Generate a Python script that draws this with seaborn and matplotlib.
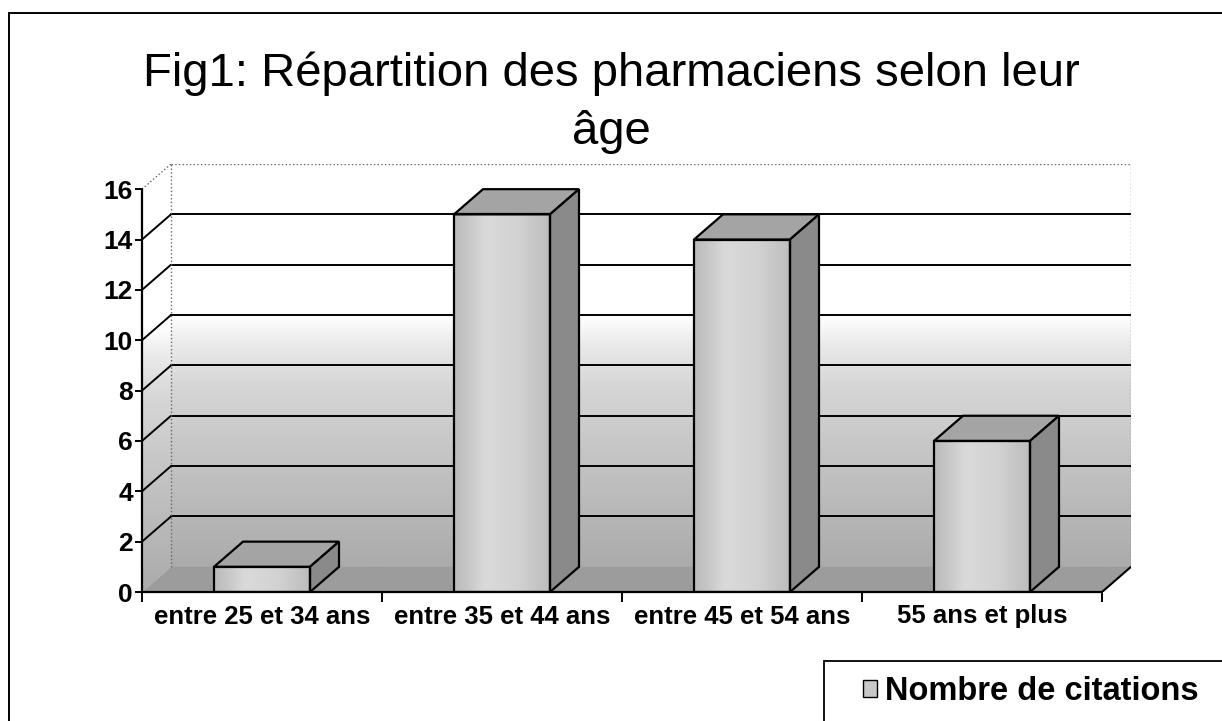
import matplotlib
matplotlib.use("Agg")
import matplotlib.pyplot as plt
import numpy as np
import pandas as pd
import seaborn as sns
from matplotlib.colors import LinearSegmentedColormap
from matplotlib.patches import Patch, Polygon, Rectangle

# data
categories = ["entre 25 et 34 ans", "entre 35 et 44 ans", "entre 45 et 54 ans", "55 ans et plus"]
citations = [1, 15, 14, 6]
y_ticks = [0, 2, 4, 6, 8, 10, 12, 14, 16]
title = "Fig1: Répartition des pharmaciens selon leur\nâge"
series_name = "Nombre de citations"

df = pd.DataFrame({"age": categories, "citations": citations})

sns.set_theme(style="white")
plt.rcParams["font.family"] = ["Liberation Sans", "DejaVu Sans"]
plt.rcParams["text.color"] = "black"
plt.rcParams["xtick.color"] = "black"
plt.rcParams["ytick.color"] = "black"

W, H = 1222, 721
fig = plt.figure(figsize=(W / 100, H / 100), dpi=100)
# front axis runs 142..1102 px, back wall ends at 1131 px; value 0 at y=592, wall top at y=164
ax = fig.add_axes([142 / W, (H - 592) / H, (1131 - 142) / W, (592 - 164) / H])

DX = 29 / 240   # depth offset, category units
DY = 1.0        # depth offset, value units
YMAX = y_ticks[-1]
x0, x1 = -0.5, len(categories) - 0.5

wall_cmap = LinearSegmentedColormap.from_list(
    "wall", [(0.0, "#ababab"), (0.25, "#c2c2c2"), (0.45, "#d6d6d6"),
             (0.56, "#ececec"), (0.62, "#ffffff"), (1.0, "#ffffff")])
grad = np.linspace(0, 1, 256).reshape(-1, 1)

# back wall
back = Polygon([(x0 + DX, DY), (x1 + DX, DY), (x1 + DX, YMAX + DY), (x0 + DX, YMAX + DY)],
               closed=True, facecolor="none", edgecolor="none")
ax.add_patch(back)
im = ax.imshow(grad, cmap=wall_cmap, origin="lower", aspect="auto",
               extent=(x0 + DX, x1 + DX, DY, YMAX + DY), zorder=1)
im.set_clip_path(back)

# left side wall
side = Polygon([(x0, 0), (x0 + DX, DY), (x0 + DX, YMAX + DY), (x0, YMAX)],
               closed=True, facecolor="none", edgecolor="none")
ax.add_patch(side)
im2 = ax.imshow(grad, cmap=wall_cmap, origin="lower", aspect="auto",
                extent=(x0, x0 + DX, 0, YMAX + DY), zorder=1)
im2.set_clip_path(side)

# floor
ax.add_patch(Polygon([(x0, 0), (x1, 0), (x1 + DX, DY), (x0 + DX, DY)], closed=True,
                     facecolor="#9c9c9c", edgecolor="none", zorder=2))
ax.plot([x1, x1 + DX], [0, DY], color="black", lw=1.5, zorder=3)

# gridlines on back and side walls
for t in y_ticks[1:-1]:
    ax.plot([x0 + DX, x1 + DX], [t + DY, t + DY], color="black", lw=1.4, zorder=3)
    ax.plot([x0, x0 + DX], [t, t + DY], color="black", lw=1.4, zorder=3)
ax.plot([x0 + DX, x1 + DX], [YMAX + DY, YMAX + DY], color="#666666", lw=1, ls=":", zorder=3)
ax.plot([x0, x0 + DX], [YMAX, YMAX + DY], color="#666666", lw=1, ls=":", zorder=3)
ax.plot([x0 + DX, x0 + DX], [DY, YMAX + DY], color="#666666", lw=1, ls=":", zorder=3)
ax.plot([x1 + DX, x1 + DX], [DY, YMAX + DY], color="#666666", lw=1, ls=":", zorder=3)

# bars: front faces from seaborn, then top and side faces from each patch
sns.barplot(data=df, x="age", y="citations", color="#cccccc", width=0.4,
            saturation=1, edgecolor="black", linewidth=1.6, ax=ax)
bars = list(ax.patches)[-len(categories):]
front_cmap = LinearSegmentedColormap.from_list("front", ["#b9b9b9", "#dadada", "#d2d2d2", "#bdbdbd"])
hgrad = np.linspace(0, 1, 256).reshape(1, -1)
for bar in bars:
    bx, bw, bh = bar.get_x(), bar.get_width(), bar.get_height()
    bar.set_facecolor("none")
    bar.set_zorder(5.4)
    fim = ax.imshow(hgrad, cmap=front_cmap, aspect="auto", origin="lower",
                    extent=(bx, bx + bw, 0, bh), zorder=5)
    fim.set_clip_path(bar)
    ax.add_patch(Polygon([(bx, bh), (bx + bw, bh), (bx + bw + DX, bh + DY), (bx + DX, bh + DY)],
                         closed=True, facecolor="#a4a4a4", edgecolor="black", lw=1.6, zorder=5.2))
    ax.add_patch(Polygon([(bx + bw, 0), (bx + bw + DX, DY), (bx + bw + DX, bh + DY), (bx + bw, bh)],
                         closed=True, facecolor="#8a8a8a", edgecolor="black", lw=1.6, zorder=5.2))

ax.set_xlim(x0, x1 + DX)
ax.set_ylim(0, YMAX + DY)
for s in ax.spines.values():
    s.set_visible(False)

# front axes
ax.plot([x0, x0], [0, YMAX], color="black", lw=1.6, zorder=6, clip_on=False)
ax.plot([x0, x1], [0, 0], color="black", lw=1.6, zorder=6, clip_on=False)
ax.set_yticks(y_ticks)
ax.set_yticklabels([str(t) for t in y_ticks], fontsize=19, fontweight="bold")
ax.set_xticks(range(len(categories)))
ax.set_xticklabels(categories, fontsize=18.5, fontweight="bold")
ax.set_xticks(np.arange(x0, x1 + 0.01, 1.0), minor=True)
ax.tick_params(axis="y", left=True, length=5, width=1.4, pad=1.5, color="black")
ax.tick_params(axis="x", which="major", bottom=True, length=0, pad=9)
ax.tick_params(axis="x", which="minor", bottom=True, length=7, width=1.4, color="black")
ax.set_xlabel("")
ax.set_ylabel("")

fig.text(0.5, (H - 51) / H, title, ha="center", va="top", fontsize=34, linespacing=1.42,
         color="black")

# legend box runs off the right and bottom edges like the reference
fig.add_artist(Rectangle((824 / W, -0.1), 1.0, (H - 661) / H + 0.1, transform=fig.transFigure,
                         fill=False, edgecolor="black", lw=1.3))
fig.legend(handles=[Patch(facecolor="#c8c8c8", edgecolor="black", label=series_name)],
           loc="center left", bbox_to_anchor=(850 / W, (H - 692) / H), frameon=False,
           prop={"size": 23.5, "weight": "bold"}, handlelength=0.42, handleheight=0.42,
           handletextpad=0.25, borderaxespad=0)

# outer chart border
fig.add_artist(Rectangle((9 / W, -0.1), 1.2, (H - 13) / H + 0.1, transform=fig.transFigure,
                         fill=False, edgecolor="black", lw=1.4))

fig.savefig("out.png", dpi=100)
